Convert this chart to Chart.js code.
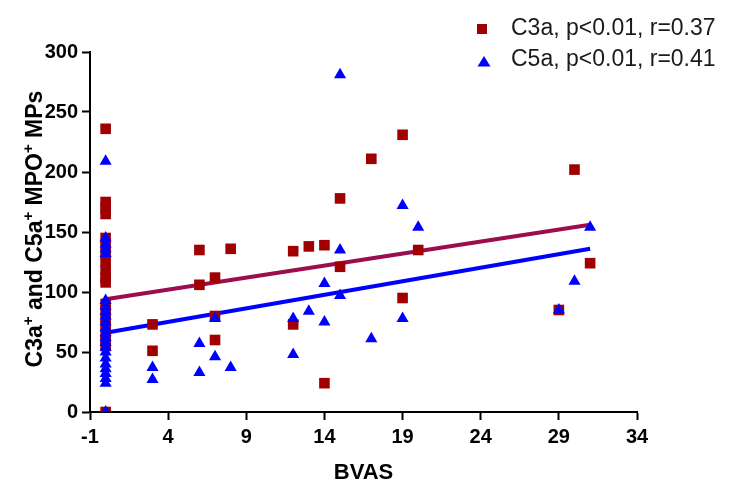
<!DOCTYPE html>
<html>
<head>
<meta charset="utf-8">
<script src="https://cdn.jsdelivr.net/npm/chart.js@4"></script>
<style>
  html, body { margin: 0; padding: 0; background: #fff; }
</style>
</head>
<body>
<canvas id="grafico" width="732" height="496"></canvas>
<script>
// C3a (quadrados)
const c3aBvas = [0, 0, 0, 0, 0, 0, 0, 0, 0, 0, 0, 0, 0, 0, 0, 0, 0, 0, 0,
  3, 3, 6, 6, 7, 7, 7, 8, 12, 12, 13, 14, 14, 15, 15, 17, 19, 19, 20, 29, 30, 31];
const c3aValores = [236, 175, 170, 165, 145, 140, 132, 125, 118, 112, 108, 90, 85, 78, 72, 65, 60, 55, 0,
  73, 51, 135, 106, 112, 80, 60, 136, 134, 73, 138, 139, 24, 178, 121, 211, 231, 95, 135, 85, 202, 124];

// C5a (triangulos)
const c5aBvas = [0, 0, 0, 0, 0, 0, 0, 0, 0, 0, 0, 0, 0, 0, 0, 0, 0, 0, 0, 0, 0, 0, 0,
  3, 3, 6, 6, 7, 7, 8, 12, 12, 13, 14, 14, 15, 15, 15, 17, 19, 19, 20, 29, 30, 31];
const c5aValores = [209, 145, 140, 136, 132, 93, 88, 84, 80, 75, 70, 66, 62, 58, 54, 50, 45, 40, 36, 32, 28, 24, 0,
  37, 27, 57, 33, 78, 46, 37, 78, 48, 84, 107, 75, 281, 135, 97, 61, 172, 78, 154, 85, 109, 154];

// retas de regressao
const retaBvas = [0, 31];
const retaC3a = [94, 156];
const retaC5a = [66, 136];

const xTicks = [-1, 4, 9, 14, 19, 24, 29, 34];
const yTicks = [0, 50, 100, 150, 200, 250, 300];

const legendas = ['C3a, p<0.01, r=0.37', 'C5a, p<0.01, r=0.41'];

function pontos(xs, ys) {
    return xs.map((x, i) => ({ x: x, y: ys[i] }));
}

const fonteTick = { family: '"Liberation Sans Narrow", "Arial Narrow", "Liberation Sans", Arial', size: 20, weight: 'bold' };

// legenda e titulo do eixo y desenhados a mao
const extras = {
    id: 'extras',
    afterDraw(chart) {
        const ctx = chart.ctx;
        ctx.save();
        // legenda
        ctx.fillStyle = '#A00000';
        ctx.fillRect(477, 24, 10, 10);
        ctx.fillStyle = '#0000FF';
        ctx.beginPath();
        ctx.moveTo(484, 56);
        ctx.lineTo(490.5, 66.5);
        ctx.lineTo(477.5, 66.5);
        ctx.closePath();
        ctx.fill();
        ctx.fillStyle = '#1a1a1a';
        ctx.font = '23px "Liberation Sans", Arial, sans-serif';
        ctx.textBaseline = 'middle';
        ctx.fillText(legendas[0], 511, 29);
        ctx.fillText(legendas[1], 511, 60);

        // titulo y com sobrescritos
        const partes = [
            ['C3a', false], ['+', true], [' and C5a', false], ['+', true],
            [' MPO', false], ['+', true], [' MPs', false]
        ];
        const fNormal = 'bold 23px "Liberation Sans", Arial, sans-serif';
        const fSup = 'bold 15px "Liberation Sans", Arial, sans-serif';
        let total = 0;
        partes.forEach(p => {
            ctx.font = p[1] ? fSup : fNormal;
            total += ctx.measureText(p[0]).width;
        });
        ctx.translate(42, 229);
        ctx.rotate(-Math.PI / 2);
        ctx.textBaseline = 'alphabetic';
        ctx.textAlign = 'left';
        ctx.fillStyle = '#000';
        let pos = -total / 2;
        partes.forEach(p => {
            ctx.font = p[1] ? fSup : fNormal;
            ctx.fillText(p[0], pos, p[1] ? -9 : 0);
            pos += ctx.measureText(p[0]).width;
        });
        ctx.restore();
    }
};

const ctx = document.getElementById('grafico').getContext('2d');
const grafico = new Chart(ctx, {
    type: 'scatter',
    data: {
        datasets: [
            {
                label: legendas[1],
                data: pontos(c5aBvas, c5aValores),
                pointStyle: 'triangle',
                pointRadius: 7,
                backgroundColor: '#0000FF',
                borderColor: '#0000FF',
                borderWidth: 0,
                order: 0
            },
            {
                label: legendas[0],
                data: pontos(c3aBvas, c3aValores),
                pointStyle: 'rect',
                pointRadius: 7.5,
                backgroundColor: '#A00000',
                borderColor: '#A00000',
                borderWidth: 0,
                order: 1
            },
            {
                label: 'reta C5a',
                data: pontos(retaBvas, retaC5a),
                showLine: true,
                pointRadius: 0,
                borderColor: '#0000FF',
                borderWidth: 4,
                order: 2
            },
            {
                label: 'reta C3a',
                data: pontos(retaBvas, retaC3a),
                showLine: true,
                pointRadius: 0,
                borderColor: '#9C0D4F',
                borderWidth: 4,
                order: 3
            }
        ]
    },
    options: {
        responsive: false,
        animation: false,
        layout: { padding: { top: 52, right: 95, bottom: 0, left: 0 } },
        plugins: {
            legend: { display: false },
            tooltip: { enabled: false }
        },
        scales: {
            x: {
                type: 'linear',
                min: -1,
                max: 34,
                afterBuildTicks: s => { s.ticks = xTicks.map(v => ({ value: v })); },
                afterFit: s => { s.height = 84; },
                grid: { drawOnChartArea: false, drawTicks: true, tickLength: 8, tickWidth: 2, tickColor: '#000' },
                border: { display: true, color: '#000', width: 2 },
                ticks: { font: fonteTick, color: '#000', padding: 5, maxRotation: 0, autoSkip: false },
                title: {
                    display: true,
                    text: 'BVAS',
                    color: '#000',
                    font: { family: '"Liberation Sans", Arial', size: 22, weight: 'bold' },
                    padding: { top: 4, bottom: 10 }
                }
            },
            y: {
                type: 'linear',
                min: 0,
                max: 300,
                afterBuildTicks: s => { s.ticks = yTicks.map(v => ({ value: v })); },
                afterFit: s => { s.width = 90; },
                grid: { drawOnChartArea: false, drawTicks: true, tickLength: 8, tickWidth: 2, tickColor: '#000' },
                border: { display: true, color: '#000', width: 2 },
                ticks: { font: fonteTick, color: '#000', padding: 4 }
            }
        }
    },
    plugins: [extras]
});
</script>
</body>
</html>
